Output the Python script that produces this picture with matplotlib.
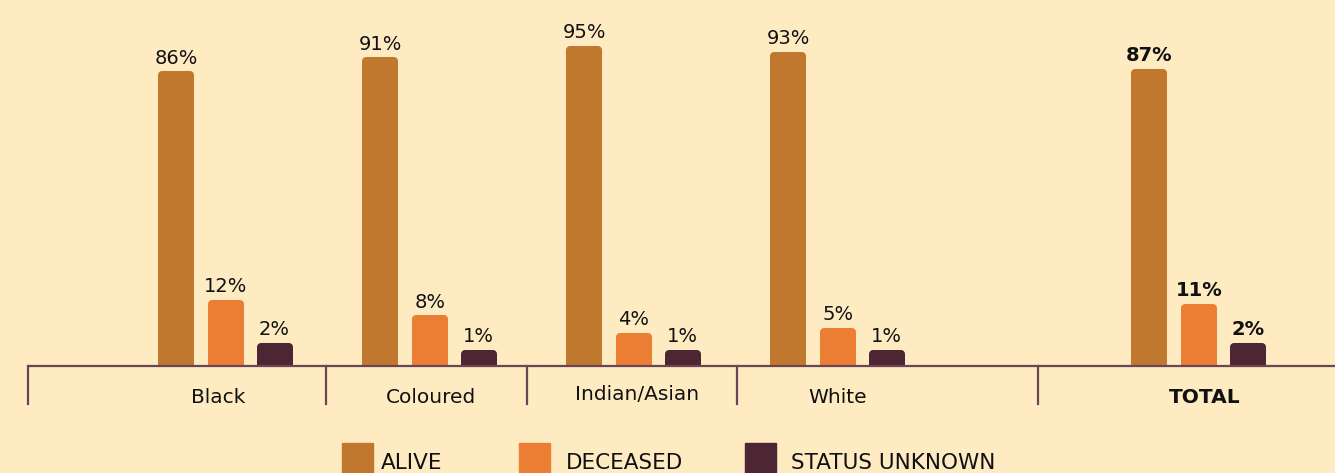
import numpy as np
import matplotlib
matplotlib.use("Agg")
import matplotlib.pyplot as plt
from matplotlib.patches import Rectangle
from matplotlib.lines import Line2D
import matplotlib.transforms as mtrans

# ---------------- data ----------------
categories = ["Black", "Coloured", "Indian/Asian", "White", "TOTAL"]
series_names = ["ALIVE", "DECEASED", "STATUS UNKNOWN"]
alive = [86, 91, 95, 93, 87]
deceased = [12, 8, 4, 5, 11]
unknown = [2, 1, 1, 1, 2]

# ---------------- style ----------------
BG = "#FEEBC2"
COLORS = ["#C0782F", "#EC7E33", "#4E2533"]
LINE = "#6B4556"
TXT = "#111111"
FONT = ["DejaVu Sans"]
LEGFONT = ["DejaVu Sans"]

W, H = 1335, 473
DPI = 100
fig = plt.figure(figsize=(W / DPI, H / DPI), dpi=DPI, facecolor=BG)
axis_px = 366  # pixel row of baseline from top
ax = fig.add_axes([0, (H - axis_px) / H, 1, axis_px / H])
ax.set_facecolor(BG)

# non-linear scale (bars in reference are not linear in value)
A, B = 2.3, 10.0
def fwd(v):
    v = np.asarray(v, dtype=float)
    return np.sign(v) * (A * np.abs(v) + B * np.sqrt(np.abs(v)))
def inv(y):
    y = np.asarray(y, dtype=float)
    s = (-B + np.sqrt(B * B + 4 * A * np.abs(y))) / (2 * A)
    return np.sign(y) * s * s
ax.set_yscale("function", functions=(fwd, inv))
ax.set_ylim(0, float(inv(366.0)))

unit = 204.0  # px per group step
group_x = np.array([0, 1, 2, 3, 4.77])
offsets = [-0.245, 0.0, 0.238]
lw_px = 8
bar_w = (36 - lw_px) / unit
ax.set_xlim(-226 / unit, (W - 226) / unit)

for si, (vals, col) in enumerate(zip([alive, deceased, unknown], COLORS)):
    xs = group_x + offsets[si]
    ax.bar(xs, vals, width=bar_w, color=col, edgecolor=col,
           linewidth=lw_px * 72 / DPI, joinstyle="round", zorder=2)
    for i, (x, v) in enumerate(zip(xs, vals)):
        ax.annotate(f"{v}%", (x, v), xytext=(0, 8.5), textcoords="offset points",
                    ha="center", va="baseline", fontsize=14, color=TXT,
                    family=FONT, fontweight="bold" if i == 4 else "normal")

for s in ax.spines.values():
    s.set_visible(False)
ax.set_xticks([])
ax.set_yticks([])

# baseline and dividers
dividers = (np.array([28, 326, 527, 737, 1038]) - 226) / unit
blend = mtrans.blended_transform_factory(ax.transData, fig.transFigure)
ax.plot([dividers[0], (W - 226) / unit], [0, 0], color=LINE, lw=1.6,
        clip_on=False, zorder=5, solid_capstyle="butt")
for d in dividers:
    fig.add_artist(Line2D([d, d], [(H - axis_px) / H, (H - 404) / H],
                          transform=blend, color=LINE, lw=1.6))

# category labels
label_x = [218, 431, 637, 838, 1205]
label_y = [397, 397, 394, 397, 397]
for c, lx, ly, in zip(categories, label_x, label_y):
    fig.text(lx / W, (H - ly) / H, c, ha="center", va="center",
             fontsize=14.5, color=TXT, family=FONT,
             fontweight="bold" if c == "TOTAL" else "normal")

# legend
sq_x = [342, 519, 745]
tx_x = [381, 566, 791]
for name, col, sx, tx in zip(series_names, COLORS, sq_x, tx_x):
    fig.patches.append(Rectangle((sx / W, 0), 31 / W, 30 / H,
                                 transform=fig.transFigure, color=col))
    fig.text(tx / W, (H - 469) / H, name, ha="left", va="baseline",
             fontsize=15.5, color=TXT, family=LEGFONT)

fig.savefig("out.png", dpi=DPI, facecolor=BG)
